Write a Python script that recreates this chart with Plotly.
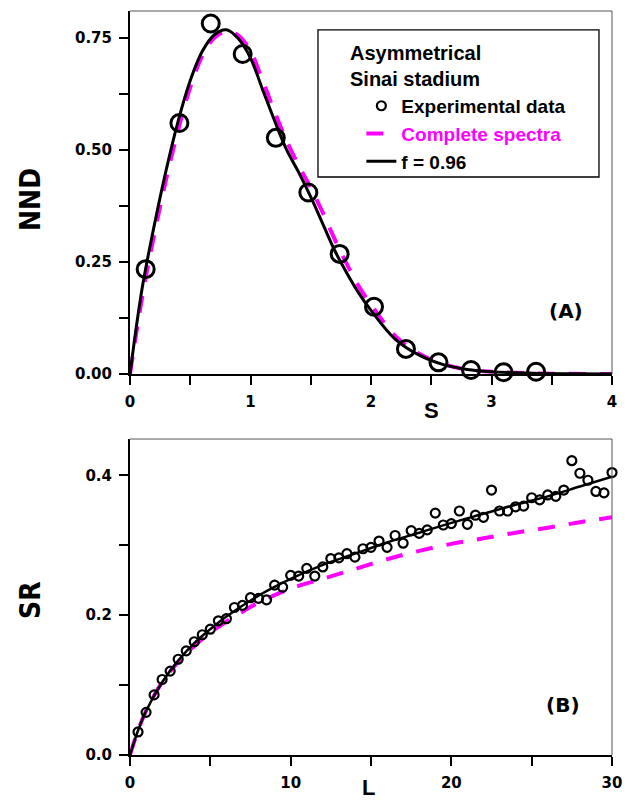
import plotly.graph_objects as go

# ---------------- Panel (A): nearest-neighbour spacing distribution ----------------
s_exp = [0.13, 0.41, 0.67, 0.935, 1.21, 1.48, 1.74, 2.025, 2.29, 2.56, 2.83, 3.10, 3.37]
nnd_exp = [0.234, 0.560, 0.782, 0.714, 0.527, 0.405, 0.268, 0.150, 0.056, 0.026, 0.009, 0.004, 0.005]

s_curve = [0, 0.1, 0.2, 0.3, 0.4, 0.5, 0.6, 0.7, 0.8, 0.9, 1.0, 1.1, 1.2, 1.3, 1.4, 1.5,
           1.6, 1.7, 1.8, 1.9, 2.0, 2.2, 2.4, 2.6, 2.8, 3.0, 3.3, 3.6, 4.0]
nnd_fit = [0, 0.19, 0.33, 0.455, 0.565, 0.655, 0.72, 0.757, 0.768, 0.748, 0.705, 0.635,
           0.565, 0.50, 0.45, 0.395, 0.335, 0.275, 0.225, 0.18, 0.142, 0.078, 0.042, 0.021,
           0.010, 0.005, 0.002, 0.0005, 0]
nnd_complete = [0, 0.17, 0.31, 0.435, 0.545, 0.64, 0.71, 0.75, 0.765, 0.755, 0.72, 0.655,
                0.585, 0.52, 0.465, 0.415, 0.36, 0.30, 0.245, 0.195, 0.155, 0.085, 0.045,
                0.022, 0.010, 0.005, 0.002, 0.0005, 0]

# ---------------- Panel (B): spectral rigidity ----------------
L_exp = [0.5, 1.0, 1.5, 2.0, 2.5, 3.0, 3.5, 4.0, 4.5, 5.0, 5.5, 6.0, 6.5, 7.0, 7.5, 8.0,
         8.5, 9.0, 9.5, 10.0, 10.5, 11.0, 11.5, 12.0, 12.5, 13.0, 13.5, 14.0, 14.5, 15.0,
         15.5, 16.0, 16.5, 17.0, 17.5, 18.0, 18.5, 19.0, 19.5, 20.0, 20.5, 21.0, 21.5, 22.0,
         22.5, 23.0, 23.5, 24.0, 24.5, 25.0, 25.5, 26.0, 26.5, 27.0, 27.5, 28.0, 28.5, 29.0,
         29.5, 30.0]
sr_exp = [0.033, 0.061, 0.086, 0.108, 0.120, 0.137, 0.149, 0.162, 0.172, 0.180, 0.192, 0.195,
          0.211, 0.214, 0.225, 0.224, 0.222, 0.243, 0.240, 0.257, 0.256, 0.267, 0.256, 0.269,
          0.281, 0.282, 0.288, 0.283, 0.295, 0.297, 0.306, 0.297, 0.314, 0.303, 0.321, 0.317,
          0.322, 0.346, 0.329, 0.331, 0.349, 0.330, 0.343, 0.340, 0.379, 0.349, 0.349, 0.355,
          0.356, 0.368, 0.365, 0.372, 0.370, 0.379, 0.421, 0.403, 0.393, 0.377, 0.375, 0.404]

L_fit = [0, 0.5, 1, 2, 3, 4, 5, 6, 8, 10, 12, 14, 16, 18, 20, 22, 24, 26, 28, 30]
sr_fit = [0, 0.035, 0.063, 0.104, 0.135, 0.160, 0.180, 0.198, 0.228, 0.252, 0.272, 0.288,
          0.304, 0.318, 0.332, 0.345, 0.358, 0.370, 0.384, 0.398]

L_complete = [0, 0.5, 1, 2, 3, 4, 5, 6, 7, 8, 10, 12, 14, 16, 18, 20, 22, 24, 26, 28, 30]
sr_complete = [0, 0.035, 0.063, 0.104, 0.133, 0.156, 0.175, 0.191, 0.205, 0.218, 0.238, 0.252,
               0.266, 0.280, 0.292, 0.302, 0.310, 0.318, 0.325, 0.333, 0.340]

MAGENTA = "#FF00FF"
DASH = "17px,14px"

fig = go.Figure()

# Panel A traces
fig.add_trace(go.Scatter(x=s_curve, y=nnd_complete, mode="lines", xaxis="x", yaxis="y",
                         line=dict(color=MAGENTA, width=4, dash=DASH, shape="spline"),
                         name="<span style='color:#FF00FF'>Complete spectra</span>",
                         legendrank=2, showlegend=True))
fig.add_trace(go.Scatter(x=s_curve, y=nnd_fit, mode="lines", xaxis="x", yaxis="y",
                         line=dict(color="black", width=3, shape="spline"),
                         name="f = 0.96", legendrank=3, showlegend=True))
fig.add_trace(go.Scatter(x=s_exp, y=nnd_exp, mode="markers", xaxis="x", yaxis="y",
                         marker=dict(symbol="circle-open", size=17, color="black",
                                     line=dict(width=3, color="black")),
                         cliponaxis=False, showlegend=False))

# Panel B traces
fig.add_trace(go.Scatter(x=L_complete, y=sr_complete, mode="lines", xaxis="x2", yaxis="y2",
                         line=dict(color=MAGENTA, width=4, dash=DASH, shape="spline"),
                         showlegend=False))
fig.add_trace(go.Scatter(x=L_fit, y=sr_fit, mode="lines", xaxis="x2", yaxis="y2",
                         line=dict(color="black", width=2.5, shape="spline"),
                         showlegend=False))
fig.add_trace(go.Scatter(x=L_exp, y=sr_exp, mode="markers", xaxis="x2", yaxis="y2",
                         marker=dict(symbol="circle-open", size=9, color="black",
                                     line=dict(width=2.2, color="black")),
                         cliponaxis=False, name="Experimental data", legendrank=1,
                         showlegend=True))

tickfont = dict(family="DejaVu Sans", size=15, color="black", weight="bold")
axis_common = dict(showline=True, linecolor="black", linewidth=2, ticks="outside",
                   ticklen=9, tickwidth=2, tickcolor="black", showgrid=False,
                   zeroline=False, tickfont=tickfont, ticklabelstandoff=4)

# the page adds an 8px body margin, so the figure margins are reduced by 8px on top/left
fig.update_layout(
    width=632, height=803,
    margin=dict(l=122, r=28, t=3, b=56),
    paper_bgcolor="white", plot_bgcolor="white",
    xaxis=dict(domain=[0, 1], range=[0, 4], anchor="y", dtick=1, tick0=0,
               minor=dict(dtick=0.5, ticks="outside", ticklen=9, tickwidth=2, tickcolor="black"),
               **axis_common),
    yaxis=dict(domain=[0.5121, 1], range=[0, 0.81], anchor="x", dtick=0.25, tick0=0,
               tickformat=".2f",
               minor=dict(dtick=0.125, ticks="outside", ticklen=9, tickwidth=2, tickcolor="black"),
               **axis_common),
    xaxis2=dict(domain=[0, 1], range=[0, 30], anchor="y2", dtick=10, tick0=0,
                minor=dict(dtick=5, ticks="outside", ticklen=9, tickwidth=2, tickcolor="black"),
                **axis_common),
    yaxis2=dict(domain=[0, 0.4247], range=[0, 0.452], anchor="x2", dtick=0.2, tick0=0,
                tickformat=".1f",
                minor=dict(dtick=0.1, ticks="outside", ticklen=9, tickwidth=2, tickcolor="black"),
                **axis_common),
    legend=dict(x=0.48, y=0.898, xanchor="left", yanchor="top",
                bgcolor="rgba(0,0,0,0)", borderwidth=0, tracegroupgap=0,
                font=dict(family="Liberation Sans", size=19, color="black", weight="bold")),
    showlegend=True,
)

# thin grey frame on top and right of each panel
for xr, yr in (("x domain", "y domain"), ("x2 domain", "y2 domain")):
    fig.add_shape(type="line", xref=xr, yref=yr, x0=0, x1=1, y0=1, y1=1,
                  line=dict(color="#555555", width=1))
    fig.add_shape(type="line", xref=xr, yref=yr, x0=1, x1=1, y0=0, y1=1,
                  line=dict(color="#555555", width=1))

# legend frame
fig.add_shape(type="rect", xref="paper", yref="paper", x0=0.3900, x1=0.9730,
              y0=0.7769, y1=0.9745, line=dict(color="black", width=1.3),
              fillcolor="rgba(0,0,0,0)")


def px_x(px):
    return (px - 130) / 482


def px_y(py):
    return (755 - py) / 744


lab_font = dict(family="Liberation Sans", size=20, color="black", weight="bold")
fig.add_annotation(xref="paper", yref="paper", x=px_x(348), y=px_y(66.5), xanchor="left",
                   yanchor="middle", align="left", showarrow=False,
                   text="Asymmetrical<br>Sinai stadium", font=lab_font)

title_font = dict(family="Liberation Sans Narrow, DejaVu Sans Condensed, Roboto Condensed, "
                         "Liberation Sans, Arial, sans-serif",
                  size=28, color="black", weight="bold")
fig.add_annotation(xref="paper", yref="paper", x=px_x(30), y=px_y(200), textangle=-90,
                   xanchor="center", yanchor="middle", showarrow=False, text="NND",
                   font=title_font)
fig.add_annotation(xref="paper", yref="paper", x=px_x(30), y=px_y(600), textangle=-90,
                   xanchor="center", yanchor="middle", showarrow=False, text="SR",
                   font=title_font)

xl_font = dict(family="Liberation Sans", size=22, color="black", weight="bold")
fig.add_annotation(xref="paper", yref="paper", x=px_x(431), y=px_y(410), showarrow=False,
                   xanchor="center", yanchor="middle", text="S", font=xl_font)
fig.add_annotation(xref="paper", yref="paper", x=px_x(368), y=px_y(787), showarrow=False,
                   xanchor="center", yanchor="middle", text="L", font=xl_font)

panel_font = dict(family="DejaVu Sans", size=20, color="black", weight="bold")
fig.add_annotation(xref="paper", yref="paper", x=px_x(566), y=px_y(311), showarrow=False,
                   xanchor="center", yanchor="middle", text="(A)", font=panel_font)
fig.add_annotation(xref="paper", yref="paper", x=px_x(563), y=px_y(704.5), showarrow=False,
                   xanchor="center", yanchor="middle", text="(B)", font=panel_font)

fig.write_html("out.html")
